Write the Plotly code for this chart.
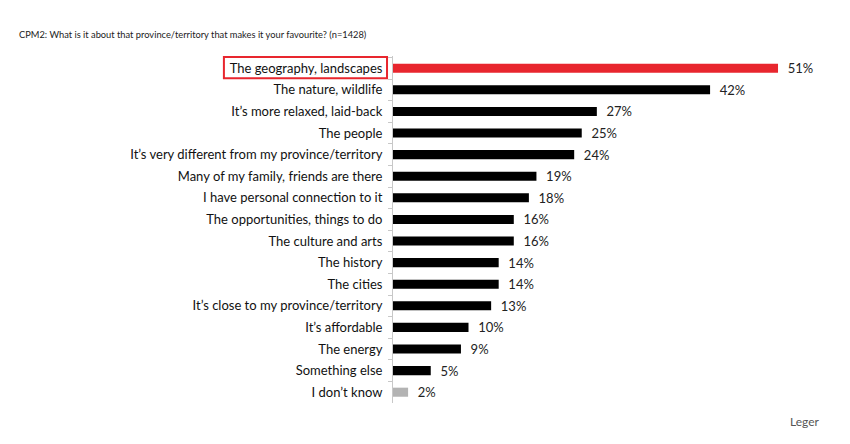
import plotly.graph_objects as go

categories = [
    "The geography, landscapes",
    "The nature, wildlife",
    "It\u2019s more relaxed, laid-back",
    "The people",
    "It\u2019s very different from my province/territory",
    "Many of my family, friends are there",
    "I have personal connection to it",
    "The opportunities, things to do",
    "The culture and arts",
    "The history",
    "The cities",
    "It\u2019s close to my province/territory",
    "It\u2019s affordable",
    "The energy",
    "Something else",
    "I don\u2019t know",
]
values = [51, 42, 27, 25, 24, 19, 18, 16, 16, 14, 14, 13, 10, 9, 5, 2]
value_labels = [f"{v}%" for v in values]

RED = "#e8262e"
BLACK = "#000000"
GREY = "#b3b3b3"
colors = [RED] + [BLACK] * (len(values) - 2) + [GREY]

FONT = "Lato"

fig = go.Figure()
fig.add_trace(go.Bar(
    y=categories,
    x=values,
    orientation="h",
    marker=dict(color=colors, line=dict(width=0)),
    width=0.42,
    text=value_labels,
    texttemplate="  %{text}",
    textposition="outside",
    constraintext="none",
    cliponaxis=False,
    textfont=dict(family=FONT, size=13, color="#222222"),
    hoverinfo="skip",
))

fig.update_layout(
    width=842,
    height=436,
    margin=dict(l=385, r=30, t=48, b=41),
    paper_bgcolor="white",
    plot_bgcolor="white",
    showlegend=False,
    xaxis=dict(
        range=[0, 56.56],
        showgrid=False,
        zeroline=False,
        showticklabels=False,
        showline=False,
        fixedrange=True,
    ),
    yaxis=dict(
        autorange="reversed",
        showgrid=False,
        showline=True,
        linecolor="#c8c8c8",
        linewidth=1,
        ticks="outside",
        tickson="boundaries",
        ticklen=4,
        tickcolor="#c8c8c8",
        tickfont=dict(family=FONT, size=13, color="#111111"),
        ticklabelstandoff=7,
        fixedrange=True,
    ),
    annotations=[
        dict(
            text="CPM2: What is it about that province/territory that makes it your favourite? (n=1428)",
            xref="paper", yref="paper",
            x=-0.8806, y=1.0,
            xanchor="left", yanchor="bottom",
            yshift=14,
            showarrow=False,
            font=dict(family=FONT, size=9.3, color="#222222"),
        ),
        dict(
            text="Leger",
            xref="paper", yref="paper",
            x=1.005, y=0,
            xanchor="right", yanchor="top",
            yshift=-9,
            showarrow=False,
            font=dict(family=FONT, size=12, color="#555555"),
        ),
    ],
    shapes=[
        dict(
            type="rect",
            xref="paper", yref="y",
            x0=-0.396, x1=-0.014,
            y0=-0.52, y1=0.46,
            line=dict(color=RED, width=2),
            fillcolor="rgba(0,0,0,0)",
        ),
    ],
)

fig.write_html("out.html")
